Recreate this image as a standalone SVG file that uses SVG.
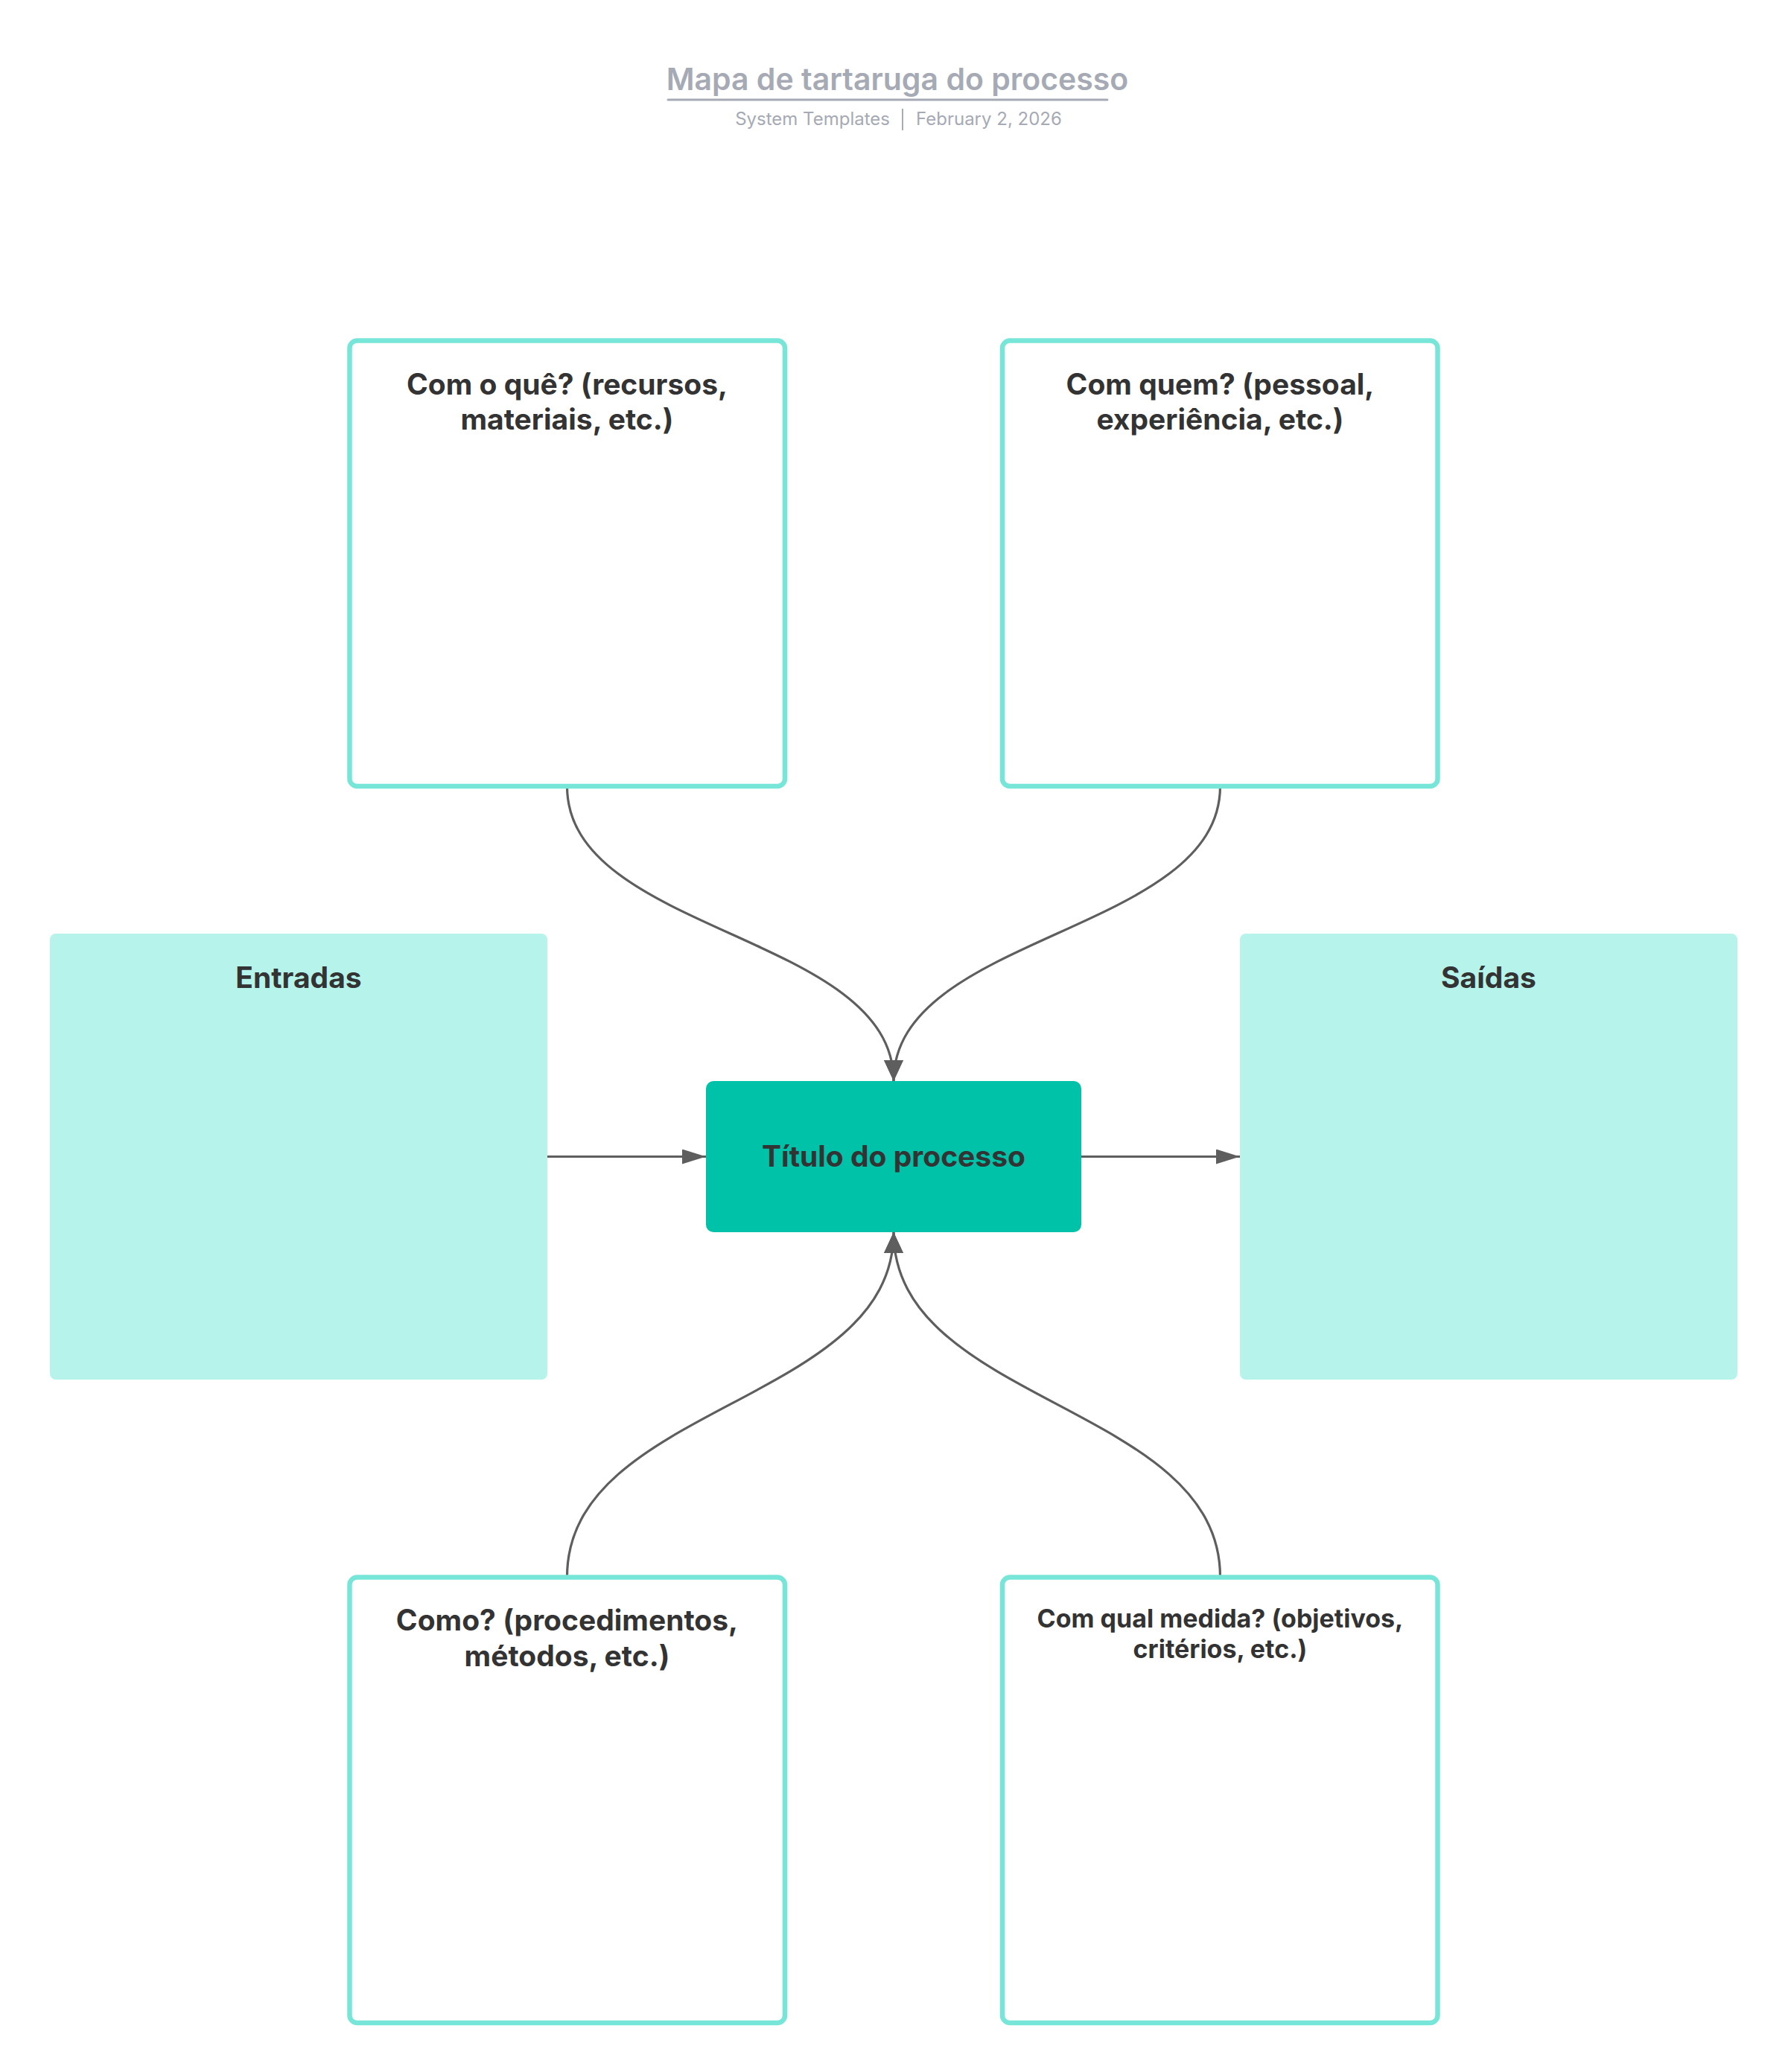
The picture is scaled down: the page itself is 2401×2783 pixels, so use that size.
<svg xmlns="http://www.w3.org/2000/svg" width="2401" height="2783" viewBox="0 0 2401 2783">
<defs>
<style>
.box{fill:#ffffff;stroke:#77e6d8;stroke-width:6.5}
.soft{fill:#b6f4eb}
.main{fill:#00c2a8}
.lbl{font-family:Inter,"Liberation Sans",sans-serif;font-weight:700;fill:#333333;text-anchor:middle}
.conn{fill:none;stroke:#5e5e5e;stroke-width:3.2}
.ttl{font-family:Inter,"Liberation Sans",sans-serif;font-weight:600;font-size:41px;fill:#a5aab5;text-anchor:middle}
.sub{font-family:Inter,"Liberation Sans",sans-serif;font-weight:400;font-size:24px;fill:#a5aab5}
</style>
<marker id="ah" viewBox="0 0 32 20" refX="32" refY="10" markerUnits="userSpaceOnUse" markerWidth="32" markerHeight="20" orient="auto">
<path d="M0,0 L32,10 L0,20 Z" fill="#5e5e5e"/>
</marker>
<marker id="av" viewBox="0 0 28 26" refX="28" refY="13" markerUnits="userSpaceOnUse" markerWidth="28" markerHeight="26" orient="auto">
<path d="M0,0 L28,13 L0,26 Z" fill="#5e5e5e"/>
</marker>
</defs>
<rect width="2401" height="2783" fill="#ffffff"/>

<g id="title">
<text class="ttl" x="1205" y="121">Mapa de tartaruga do processo</text>
<line x1="897" y1="134" x2="1487" y2="134" stroke="#a5aab5" stroke-width="3" stroke-linecap="round"/>
<text class="sub" x="1195" y="168" text-anchor="end">System Templates</text>
<line x1="1212" y1="146" x2="1212" y2="175" stroke="#a5aab5" stroke-width="2"/>
<text class="sub" x="1230" y="168">February 2, 2026</text>
</g>

<g id="connectors">
<path class="conn" d="M761.5,1056 C761.5,1254 1200,1254 1200,1452" marker-end="url(#av)"/>
<path class="conn" d="M1638.5,1056 C1638.5,1254 1200,1254 1200,1452" marker-end="url(#av)"/>
<path class="conn" d="M761.5,2118 C761.5,1886 1200,1886 1200,1655" marker-end="url(#av)"/>
<path class="conn" d="M1638.5,2118 C1638.5,1886 1200,1886 1200,1655" marker-end="url(#av)"/>
<path class="conn" d="M735,1553.5 L948,1553.5" marker-end="url(#ah)"/>
<path class="conn" d="M1452,1553.5 L1665,1553.5" marker-end="url(#ah)"/>
</g>

<g id="node-recursos">
<rect class="box" x="469.5" y="457.5" width="584.5" height="598.5" rx="10"/>
<text class="lbl" font-size="39" x="761.5" y="530">Com o quê? (recursos,</text>
<text class="lbl" font-size="39" x="761.5" y="577">materiais, etc.)</text>
</g>

<g id="node-pessoal">
<rect class="box" x="1346" y="457.5" width="584.5" height="598.5" rx="10"/>
<text class="lbl" font-size="39" x="1638.5" y="530">Com quem? (pessoal,</text>
<text class="lbl" font-size="39" x="1638.5" y="577">experiência, etc.)</text>
</g>

<g id="node-entradas">
<rect class="soft" x="67" y="1254" width="668" height="599" rx="8"/>
<text class="lbl" font-size="39" x="401" y="1327">Entradas</text>
</g>

<g id="node-processo">
<rect class="main" x="948" y="1452" width="504" height="203" rx="10"/>
<text class="lbl" font-size="39" x="1200" y="1567">Título do processo</text>
</g>

<g id="node-saidas">
<rect class="soft" x="1665" y="1254" width="668" height="599" rx="8"/>
<text class="lbl" font-size="39" x="1999" y="1327">Saídas</text>
</g>

<g id="node-procedimentos">
<rect class="box" x="469.5" y="2118.5" width="584.5" height="598.5" rx="10"/>
<text class="lbl" font-size="39" x="761.5" y="2190">Como? (procedimentos,</text>
<text class="lbl" font-size="39" x="761.5" y="2238">métodos, etc.)</text>
</g>

<g id="node-medida">
<rect class="box" x="1346" y="2118.5" width="584.5" height="598.5" rx="10"/>
<text class="lbl" font-size="34" x="1638.5" y="2186">Com qual medida? (objetivos,</text>
<text class="lbl" font-size="34" x="1638.5" y="2227">critérios, etc.)</text>
</g>
</svg>
